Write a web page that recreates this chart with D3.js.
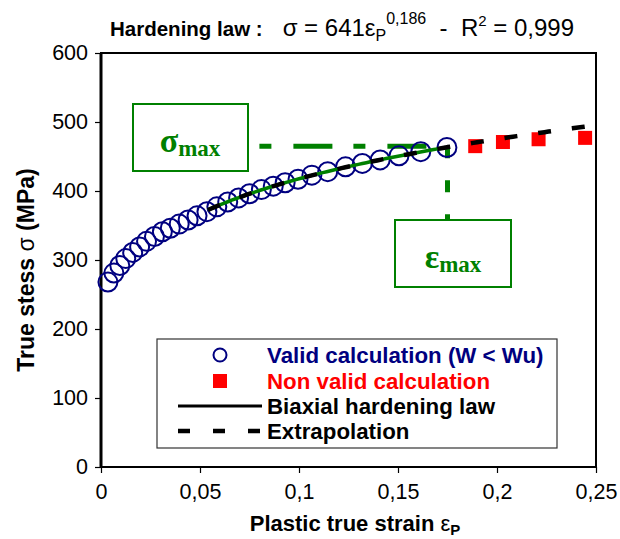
<!DOCTYPE html>
<html>
<head>
<meta charset="utf-8">
<script src="https://cdn.jsdelivr.net/npm/d3@7"></script>
<style>
  body { margin: 0; background: #fff; }
  svg { display: block; }
</style>
</head>
<body>
<svg id="chart" width="620" height="539"></svg>
<script>
// Stress-strain points from the biaxial calculation
const validStrain = [0.0035, 0.0065, 0.0095, 0.0125, 0.016, 0.0195, 0.023, 0.027, 0.031, 0.035,
                     0.0395, 0.044, 0.0485, 0.0535, 0.0585, 0.064, 0.0695, 0.075, 0.081, 0.087,
                     0.093, 0.0995, 0.1065, 0.1145, 0.1235, 0.132, 0.141, 0.1505, 0.1615, 0.1747];
const validStress = [268, 281, 292, 302, 311, 319, 327, 334, 341, 346,
                     352, 358, 364, 370, 377, 384, 390, 396, 402, 407,
                     412, 417, 423, 428, 435, 440, 445, 451, 457, 463];
const invalidStrain = [0.189, 0.203, 0.221, 0.2445];
const invalidStress = [465, 471, 475, 477];

// Hardening law sigma = K * eps^n
const lawK = 641;
const lawN = 0.186;
const lawStart = 0.054;
const lawEnd = 0.175;
const extrapEnd = 0.25;

const sigmaMax = 465;
const epsMax = 0.175;

const xTicks = [0, 0.05, 0.1, 0.15, 0.2, 0.25];
const yTicks = [0, 100, 200, 300, 400, 500, 600];

const legendLabels = ["Valid calculation (W < Wu)", "Non valid calculation",
                      "Biaxial hardening law", "Extrapolation"];

const GREEN = "#008000";
const NAVY = "#000080";
const RED = "#ff0000";
const FONT = "'Liberation Sans', Arial, sans-serif";
const SERIF = "'Liberation Serif', 'Times New Roman', serif";

const svg = d3.select("#chart");
const plot = { left: 101, right: 596, top: 53, bottom: 467 };

const x = d3.scaleLinear().domain([0, 0.25]).range([plot.left, plot.right]);
const y = d3.scaleLinear().domain([0, 600]).range([plot.bottom, plot.top]);

const comma = d => String(d).replace(".", ",");

// Title
const title = svg.append("text")
  .attr("x", 110).attr("y", 36)
  .attr("font-family", FONT).attr("font-size", 24).attr("fill", "#000");
title.append("tspan").attr("font-weight", "bold").attr("font-size", 20.5).text("Hardening law :");
title.append("tspan").attr("dx", 20).text("σ = 641ε");
title.append("tspan").attr("font-size", 16).attr("dy", 5).text("P");
title.append("tspan").attr("font-size", 16).attr("dy", -17).text("0,186");
title.append("tspan").attr("dy", 12).attr("xml:space", "preserve").text("  -  R");
title.append("tspan").attr("font-size", 15).attr("dy", -10).text("2");
title.append("tspan").attr("dy", 10).text(" = 0,999");

// Axes
const xAxis = svg.append("g")
  .attr("transform", `translate(0,${plot.bottom})`)
  .call(d3.axisBottom(x).tickValues(xTicks).tickFormat(comma).tickSize(6).tickPadding(11));
const yAxis = svg.append("g")
  .attr("transform", `translate(${plot.left},0)`)
  .call(d3.axisLeft(y).tickValues(yTicks).tickSize(6).tickPadding(7));
[xAxis, yAxis].forEach(g => {
  g.select(".domain").remove();
  g.selectAll(".tick line").attr("stroke", "#000").attr("stroke-width", 1.2);
  g.selectAll(".tick text").attr("font-family", FONT).attr("font-size", 21.5).attr("fill", "#000");
});

// Plot frame
svg.append("rect")
  .attr("x", plot.left).attr("y", plot.top)
  .attr("width", plot.right - plot.left).attr("height", plot.bottom - plot.top)
  .attr("fill", "none").attr("stroke", "#000").attr("stroke-width", 2);
svg.append("line")
  .attr("x1", plot.left).attr("x2", plot.left).attr("y1", plot.top).attr("y2", plot.bottom)
  .attr("stroke", "#000").attr("stroke-width", 3);

// Axis titles
const xTitle = svg.append("text")
  .attr("x", 355).attr("y", 531).attr("text-anchor", "middle")
  .attr("font-family", FONT).attr("font-size", 22).attr("font-weight", "bold");
xTitle.append("tspan").text("Plastic true strain ");
xTitle.append("tspan").attr("font-weight", "normal").text("ε");
xTitle.append("tspan").attr("font-size", 15).attr("dy", 4).text("P");

const yTitle = svg.append("text")
  .attr("transform", "translate(34,270) rotate(-90)").attr("text-anchor", "middle")
  .attr("font-family", FONT).attr("font-size", 23).attr("font-weight", "bold");
yTitle.append("tspan").text("True stess ");
yTitle.append("tspan").attr("font-weight", "normal").text("σ");
yTitle.append("tspan").text(" (MPa)");

// Guide lines for sigma_max / eps_max
svg.append("line")
  .attr("x1", x(0.080)).attr("x2", x(epsMax))
  .attr("y1", y(sigmaMax)).attr("y2", y(sigmaMax))
  .attr("stroke", GREEN).attr("stroke-width", 5)
  .attr("stroke-dasharray", "12,22,39,21");
svg.append("line")
  .attr("x1", x(epsMax)).attr("x2", x(epsMax))
  .attr("y1", y(sigmaMax)).attr("y2", 220)
  .attr("stroke", GREEN).attr("stroke-width", 5)
  .attr("stroke-dasharray", "12,22");

// Valid points
const validPts = validStrain.map((e, i) => [e, validStress[i]]);
svg.append("g").selectAll("circle").data(validPts).join("circle")
  .attr("cx", d => x(d[0])).attr("cy", d => y(d[1])).attr("r", 9.5)
  .attr("fill", "none").attr("stroke", NAVY).attr("stroke-width", 2);

// Hardening law curve (fit range) and extrapolation
const law = e => lawK * Math.pow(e, lawN);
const line = d3.line().x(d => x(d)).y(d => y(law(d)));
const fitRange = d3.range(lawStart, lawEnd + 1e-9, 0.002);
const extrapRange = d3.range(lawStart, extrapEnd + 1e-9, 0.002);

svg.append("path").attr("d", line(fitRange))
  .attr("fill", "none").attr("stroke", GREEN).attr("stroke-width", 3.5);

// Non valid points
const invalidPts = invalidStrain.map((e, i) => [e, invalidStress[i]]);
svg.append("g").selectAll("rect").data(invalidPts).join("rect")
  .attr("x", d => x(d[0]) - 7).attr("y", d => y(d[1]) - 7)
  .attr("width", 14).attr("height", 14).attr("fill", RED);

svg.append("path").attr("d", line(extrapRange))
  .attr("fill", "none").attr("stroke", "#000").attr("stroke-width", 4.5)
  .attr("stroke-dasharray", "13,21");

// Annotation boxes
function labelBox(bx, by, bw, bh, sym, tx, ty) {
  svg.append("rect").attr("x", bx).attr("y", by).attr("width", bw).attr("height", bh)
    .attr("fill", "#fff").attr("stroke", GREEN).attr("stroke-width", 2);
  const t = svg.append("text").attr("x", tx).attr("y", ty).attr("text-anchor", "middle")
    .attr("font-family", SERIF).attr("font-weight", "bold").attr("fill", GREEN);
  t.append("tspan").attr("font-size", 34).text(sym);
  t.append("tspan").attr("font-size", 23).attr("dy", 4).text("max");
}
labelBox(133, 104, 115, 67, "σ", 190, 152);
labelBox(395, 220, 116, 67, "ε", 453, 268);

// Legend
const lg = svg.append("g");
lg.append("rect").attr("x", 157).attr("y", 339).attr("width", 400).attr("height", 109)
  .attr("fill", "#fff").attr("stroke", "#333").attr("stroke-width", 1.2);
const rowY = [355, 381, 406, 431];
const rowColor = [NAVY, RED, "#000", "#000"];
lg.append("circle").attr("cx", 220).attr("cy", rowY[0]).attr("r", 6.5)
  .attr("fill", "none").attr("stroke", NAVY).attr("stroke-width", 2);
lg.append("rect").attr("x", 213).attr("y", rowY[1] - 7).attr("width", 14).attr("height", 14)
  .attr("fill", RED);
lg.append("line").attr("x1", 178).attr("x2", 262).attr("y1", rowY[2]).attr("y2", rowY[2])
  .attr("stroke", "#000").attr("stroke-width", 3);
lg.append("line").attr("x1", 178).attr("x2", 262).attr("y1", rowY[3]).attr("y2", rowY[3])
  .attr("stroke", "#000").attr("stroke-width", 4.5).attr("stroke-dasharray", "12,23");
lg.selectAll("text.lab").data(legendLabels).join("text").attr("class", "lab")
  .attr("x", 267).attr("y", (d, i) => rowY[i] + 8)
  .attr("font-family", FONT).attr("font-size", 22.3).attr("font-weight", "bold")
  .attr("fill", (d, i) => rowColor[i]).text(d => d);
</script>
</body>
</html>
